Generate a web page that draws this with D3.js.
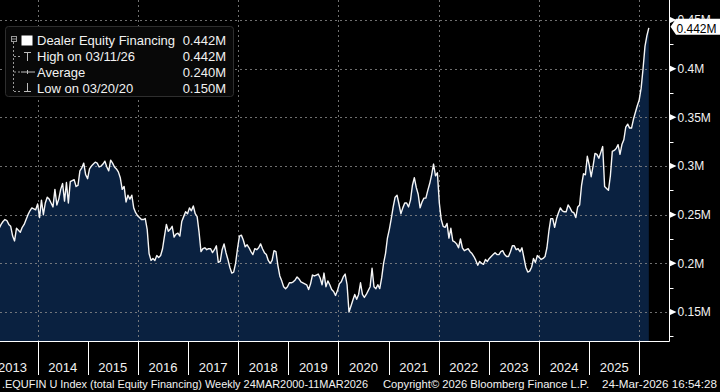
<!DOCTYPE html>
<html>
<head>
<meta charset="utf-8">
<script src="https://cdn.jsdelivr.net/npm/d3@7"></script>
<style>
  html, body { margin: 0; padding: 0; background: #000; }
  svg { display: block; }
  text { font-family: "Liberation Sans", Arial, sans-serif; fill: #f2f2f2; }
</style>
</head>
<body>
<svg id="chart" width="720" height="392"></svg>
<script>
// Dealer equity financing (millions), weekly series read every two weeks, last print 11 Mar 2026
var seriesEnd = "2026-03-11";
var stepDays = 14;
var values = [
  0.236, 0.240, 0.243, 0.245, 0.244, 0.240, 0.238, 0.228, 0.223, 0.236,
  0.234, 0.232, 0.237, 0.240, 0.245, 0.250, 0.254, 0.257, 0.256, 0.255,
  0.261, 0.247, 0.265, 0.250, 0.262, 0.268, 0.266, 0.262, 0.258, 0.276,
  0.260, 0.266, 0.276, 0.282, 0.264, 0.283, 0.262, 0.284, 0.285, 0.286,
  0.279, 0.280, 0.295, 0.298, 0.303, 0.291, 0.287, 0.297, 0.300, 0.302,
  0.304, 0.303, 0.299, 0.300, 0.302, 0.305, 0.299, 0.295, 0.306, 0.303,
  0.299, 0.297, 0.294, 0.288, 0.276, 0.279, 0.263, 0.270, 0.266, 0.270,
  0.257, 0.252, 0.249, 0.247, 0.245, 0.245, 0.246, 0.235, 0.210, 0.203,
  0.205, 0.203, 0.208, 0.206, 0.208, 0.215, 0.228, 0.240, 0.233, 0.235,
  0.238, 0.227, 0.230, 0.231, 0.228, 0.243, 0.248, 0.253, 0.251, 0.257,
  0.254, 0.259, 0.251, 0.248, 0.232, 0.212, 0.215, 0.216, 0.214, 0.215,
  0.215, 0.211, 0.214, 0.218, 0.201, 0.202, 0.214, 0.220, 0.211, 0.204,
  0.196, 0.190, 0.191, 0.200, 0.215, 0.228, 0.229, 0.224, 0.217, 0.219,
  0.216, 0.212, 0.209, 0.215, 0.214, 0.216, 0.220, 0.215, 0.211, 0.209,
  0.203, 0.200, 0.203, 0.213, 0.212, 0.198, 0.187, 0.182, 0.176, 0.174,
  0.176, 0.180, 0.180, 0.181, 0.183, 0.186, 0.184, 0.181, 0.180, 0.179,
  0.178, 0.173, 0.179, 0.188, 0.187, 0.188, 0.189, 0.185, 0.178, 0.190,
  0.176, 0.182, 0.178, 0.173, 0.171, 0.167, 0.172, 0.179, 0.181, 0.186,
  0.189, 0.178, 0.150, 0.156, 0.162, 0.168, 0.163, 0.168, 0.180, 0.168,
  0.165, 0.168, 0.172, 0.176, 0.195, 0.176, 0.174, 0.178, 0.174, 0.185,
  0.200, 0.210, 0.226, 0.235, 0.246, 0.258, 0.268, 0.270, 0.261, 0.251,
  0.257, 0.262, 0.262, 0.258, 0.265, 0.280, 0.288, 0.278, 0.271, 0.257,
  0.263, 0.267, 0.267, 0.275, 0.282, 0.291, 0.302, 0.290, 0.293, 0.262,
  0.245, 0.238, 0.237, 0.241, 0.226, 0.236, 0.223, 0.222, 0.220, 0.216,
  0.225, 0.216, 0.213, 0.214, 0.215, 0.212, 0.210, 0.207, 0.203, 0.198,
  0.202, 0.200, 0.199, 0.204, 0.202, 0.205, 0.207, 0.209, 0.211, 0.209,
  0.209, 0.212, 0.213, 0.209, 0.207, 0.207, 0.212, 0.218, 0.218, 0.214,
  0.215, 0.212, 0.216, 0.206, 0.196, 0.191, 0.192, 0.196, 0.205, 0.201,
  0.208, 0.206, 0.204, 0.205, 0.207, 0.216, 0.233, 0.246, 0.246, 0.237,
  0.246, 0.252, 0.257, 0.254, 0.253, 0.253, 0.260, 0.257, 0.253, 0.252,
  0.247, 0.258, 0.260, 0.280, 0.292, 0.291, 0.310, 0.301, 0.289, 0.300,
  0.313, 0.312, 0.308, 0.314, 0.320, 0.279, 0.277, 0.275, 0.290, 0.315,
  0.316, 0.318, 0.322, 0.312, 0.322, 0.327, 0.340, 0.343, 0.339, 0.339,
  0.348, 0.355, 0.362, 0.368, 0.380, 0.400, 0.423, 0.434, 0.442
];

var yTicks = [0.15, 0.2, 0.25, 0.3, 0.35, 0.4, 0.45];
var yMinorTicks = [0.125, 0.175, 0.225, 0.275, 0.325, 0.375, 0.425];
var yearLabels = [2013, 2014, 2015, 2016, 2017, 2018, 2019, 2020, 2021, 2022, 2023, 2024, 2025];
var yearBreaks = [2014, 2015, 2016, 2017, 2018, 2019, 2020, 2021, 2022, 2023, 2024, 2025, 2026];
var gridYears = [2014, 2016, 2018, 2020, 2022, 2024, 2026];

var legendLabels = ["Dealer Equity Financing", "High on 03/11/26", "Average", "Low on 03/20/20"];
var legendValues = ["0.442M", "0.442M", "0.240M", "0.150M"];
var lastLabel = "0.442M";

var footer = [
  ".EQUFIN U Index (total Equity Financing) Weekly 24MAR2000-11MAR2026",
  "Copyright\u00a9 2026 Bloomberg Finance L.P.",
  "24-Mar-2026 16:54:28"
];

// build dated points
var parse = d3.timeParse("%Y-%m-%d");
var endDate = parse(seriesEnd);
var n = values.length;
var data = values.map(function (v, i) {
  return { date: d3.timeDay.offset(endDate, -(n - 1 - i) * stepDays), value: v };
});

var svg = d3.select("#chart");
var plotW = 669, plotH = 341;

var x = d3.scaleTime()
  .domain([new Date(2013, 3, 2), new Date(2026, 7, 5)])
  .range([0, plotW]);
var y = d3.scaleLinear()
  .domain([0.1202, 0.4706])
  .range([plotH, 0]);

svg.append("defs").append("clipPath").attr("id", "plotclip")
  .append("rect").attr("x", 0).attr("y", 0).attr("width", plotW).attr("height", plotH);

var plot = svg.append("g").attr("clip-path", "url(#plotclip)");

// area fill
plot.append("path")
  .datum(data)
  .attr("fill", "#0a2140")
  .attr("d", d3.area()
    .x(function (d) { return x(d.date); })
    .y0(plotH)
    .y1(function (d) { return y(d.value); }));

// dotted grid
plot.selectAll(".hgrid").data(yTicks).enter().append("line")
  .attr("x1", 0).attr("x2", plotW)
  .attr("y1", function (d) { return Math.round(y(d)) + 0.5; })
  .attr("y2", function (d) { return Math.round(y(d)) + 0.5; })
  .attr("stroke", "#8c8c8c").attr("stroke-width", 1)
  .attr("stroke-dasharray", "2,3").attr("opacity", 0.8);

plot.selectAll(".vgrid").data(gridYears).enter().append("line")
  .attr("x1", function (d) { return Math.round(x(new Date(d, 0, 1))) + 0.5; })
  .attr("x2", function (d) { return Math.round(x(new Date(d, 0, 1))) + 0.5; })
  .attr("y1", 0).attr("y2", plotH)
  .attr("stroke", "#8c8c8c").attr("stroke-width", 1)
  .attr("stroke-dasharray", "2,3").attr("opacity", 0.8);

// the line
plot.append("path")
  .datum(data)
  .attr("fill", "none")
  .attr("stroke", "#f6f6f6")
  .attr("stroke-width", 1.4)
  .attr("stroke-linejoin", "round")
  .attr("d", d3.line()
    .x(function (d) { return x(d.date); })
    .y(function (d) { return y(d.value); }));

// right axis
var axisX = plotW + 0.5;
svg.append("line")
  .attr("x1", axisX).attr("x2", axisX).attr("y1", 0).attr("y2", plotH + 0.5)
  .attr("stroke", "#fff").attr("stroke-width", 1);

svg.selectAll(".minor").data(yMinorTicks).enter().append("line")
  .attr("x1", axisX).attr("x2", axisX + 4)
  .attr("y1", function (d) { return Math.round(y(d)) + 0.5; })
  .attr("y2", function (d) { return Math.round(y(d)) + 0.5; })
  .attr("stroke", "#fff");

var major = svg.selectAll(".major").data(yTicks).enter().append("g")
  .attr("transform", function (d) { return "translate(" + axisX + "," + y(d) + ")"; });
major.append("path").attr("d", "M-0.5,-3.5L7,0L-0.5,3.5Z").attr("fill", "#fff");
major.append("text")
  .attr("x", 8).attr("dy", "0.35em")
  .attr("font-size", 12)
  .text(function (d) { return d + "M"; });

// bottom axis
svg.append("line")
  .attr("x1", 0).attr("x2", axisX).attr("y1", plotH + 0.5).attr("y2", plotH + 0.5)
  .attr("stroke", "#fff");

svg.selectAll(".sep").data(yearBreaks).enter().append("line")
  .attr("x1", function (d) { return Math.round(x(new Date(d, 0, 1))) + 0.5; })
  .attr("x2", function (d) { return Math.round(x(new Date(d, 0, 1))) + 0.5; })
  .attr("y1", plotH).attr("y2", 375)
  .attr("stroke", "#fff");

svg.selectAll(".year").data(yearLabels).enter().append("text")
  .attr("x", function (d) { return (x(new Date(d, 0, 1)) + x(new Date(d + 1, 0, 1))) / 2; })
  .attr("y", 371.5)
  .attr("text-anchor", "middle")
  .attr("font-size", 13)
  .text(function (d) { return d; });

// footer
var footPos = [[2, 366], [383, 206], [602, 115]];
svg.selectAll(".foot").data(footer).enter().append("text")
  .attr("x", function (d, i) { return footPos[i][0]; })
  .attr("y", 387.5)
  .attr("font-size", 11)
  .attr("textLength", function (d, i) { return footPos[i][1]; })
  .attr("lengthAdjust", "spacingAndGlyphs")
  .text(function (d) { return d; });

// last value tag
var ty = y(values[n - 1]) - 1;
svg.append("path")
  .attr("d", "M670.5," + ty + "L676," + (ty - 8) + "L720," + (ty - 8) + "L720," + (ty + 8) + "L676," + (ty + 8) + "Z")
  .attr("fill", "#fff");
svg.append("text")
  .attr("x", 676.5).attr("y", ty + 6)
  .attr("font-size", 12)
  .style("fill", "#000")
  .text(lastLabel);

// legend box
var lg = svg.append("g");
lg.append("rect")
  .attr("x", 5.5).attr("y", 26.5).attr("width", 228).attr("height", 70)
  .attr("rx", 3)
  .attr("fill", "#080808").attr("stroke", "#2e2e2e");

var rowY = [45, 60.5, 76.5, 92.5];
lg.selectAll(".ll").data(legendLabels).enter().append("text")
  .attr("x", 37).attr("y", function (d, i) { return rowY[i]; })
  .attr("font-size", 13)
  .text(function (d) { return d; });
lg.selectAll(".lv").data(legendValues).enter().append("text")
  .attr("x", 226).attr("y", function (d, i) { return rowY[i]; })
  .attr("text-anchor", "end")
  .attr("font-size", 13)
  .text(function (d) { return d; });

// tree connectors and icons
var gray = "#9a9a9a";
lg.append("rect").attr("x", 11.5).attr("y", 36.5).attr("width", 5).attr("height", 5)
  .attr("fill", "none").attr("stroke", gray);
lg.append("line").attr("x1", 12).attr("x2", 16).attr("y1", 39).attr("y2", 39).attr("stroke", gray);
lg.append("line").attr("x1", 13.5).attr("x2", 13.5).attr("y1", 42).attr("y2", 91)
  .attr("stroke", gray).attr("stroke-dasharray", "2,2");
[56, 71.5, 91].forEach(function (yy) {
  lg.append("line").attr("x1", 14).attr("x2", 20).attr("y1", yy + 0.5).attr("y2", yy + 0.5)
    .attr("stroke", gray).attr("stroke-dasharray", "2,2");
});
lg.append("rect").attr("x", 21.5).attr("y", 35.5).attr("width", 11).attr("height", 10).attr("fill", "#fff");
// high marker
lg.append("path").attr("d", "M24,52.5H31M27.5,52.5V61").attr("stroke", "#bdbdbd").attr("fill", "none");
// average marker
lg.append("path").attr("d", "M21,72H35M27.5,70V74").attr("stroke", "#bdbdbd").attr("fill", "none");
// low marker
lg.append("path").attr("d", "M27.5,83V91.5M24,91.5H31").attr("stroke", "#bdbdbd").attr("fill", "none");
</script>
</body>
</html>
